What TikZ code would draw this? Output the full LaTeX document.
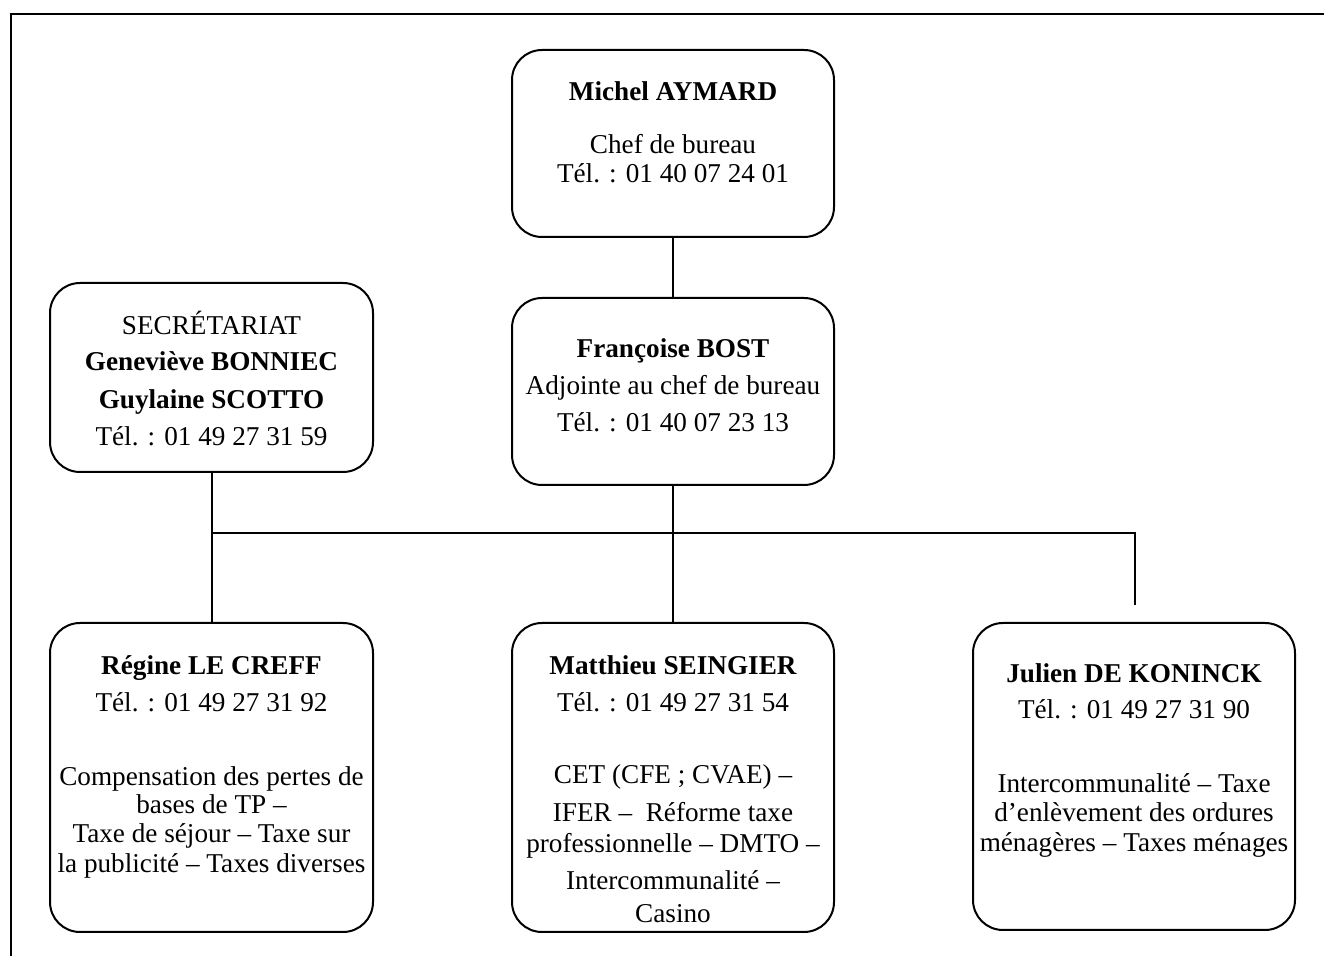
\documentclass[tikz,border=0pt]{standalone}
\usepackage{fontspec}
\setmainfont{Liberation Serif}
\begin{document}
\begin{tikzpicture}[x=0.5pt,y=-0.5pt,
  box/.style={draw, line width=1pt, rounded corners=15pt, inner sep=0pt},
  txt/.style={anchor=base, inner sep=0pt, font=\fontsize{13.6}{16}\selectfont},
  bt/.style={anchor=base, inner sep=0pt, font=\fontsize{13.6}{16}\selectfont\bfseries},
  link/.style={line width=1pt},
  frame/.style={line width=1.2pt}]
\useasboundingbox (0,0) rectangle (1324,956);
\draw[frame] (11,956) -- (11,14) -- (1324,14);

% boxes
\node[box, minimum width=161pt, minimum height=93.5pt] (chef) at (673,143.5) {};
\node[box, minimum width=161.5pt, minimum height=94.5pt] (secr) at (211.5,377.5) {};
\node[box, minimum width=161pt, minimum height=93.5pt] (adj) at (673,391.5) {};
\node[box, minimum width=161.5pt, minimum height=154.5pt] (lecreff) at (211.5,777.5) {};
\node[box, minimum width=161pt, minimum height=154.5pt] (seingier) at (673,777.5) {};
\node[box, minimum width=161pt, minimum height=153.5pt] (koninck) at (1134,776.5) {};

% connectors
\coordinate (busR) at (1135,533);
\coordinate (kEnd) at (1135,605);
\draw[link] (chef.south) -- (adj.north);
\draw[link] (secr.south) -- (lecreff.north);
\draw[link] (adj.south) -- (seingier.north);
\draw[link] (secr.south |- busR) -- (busR) -- (kEnd);

% Michel AYMARD
\node[bt] (c1) at (673,101) {Michel AYMARD};
\node[txt] (c2) at (673,154) {Chef de bureau};
\node[txt] (c3) at (673,183) {Tél. : 01 40 07 24 01};

% Secretariat
\node[txt] (s1) at (211.5,335) {SECRÉTARIAT};
\node[bt] (s2) at (211.5,371) {Geneviève BONNIEC};
\node[bt] (s3) at (211.5,409) {Guylaine SCOTTO};
\node[txt] (s4) at (211.5,446) {Tél. : 01 49 27 31 59};

% Francoise BOST
\node[bt] (a1) at (673,358) {Françoise BOST};
\node[txt] (a2) at (673,395) {Adjointe au chef de bureau};
\node[txt] (a3) at (673,432) {Tél. : 01 40 07 23 13};

% Regine LE CREFF
\node[bt] (r1) at (211.5,675) {Régine LE CREFF};
\node[txt] (r2) at (211.5,712) {Tél. : 01 49 27 31 92};
\node[txt] (r3) at (211.5,786) {Compensation des pertes de};
\node[txt] (r4) at (211.5,814) {bases de TP –};
\node[txt] (r5) at (211.5,843) {Taxe de séjour – Taxe sur};
\node[txt] (r6) at (211.5,873) {la publicité – Taxes diverses};

% Matthieu SEINGIER
\node[bt] (m1) at (673,675) {Matthieu SEINGIER};
\node[txt] (m2) at (673,712) {Tél. : 01 49 27 31 54};
\node[txt] (m3) at (673,784) {CET (CFE ; CVAE) –};
\node[txt] (m4) at (673,822) {IFER –~ Réforme taxe};
\node[txt] (m5) at (673,853) {professionnelle – DMTO –};
\node[txt] (m6) at (673,890) {Intercommunalité –};
\node[txt] (m7) at (673,923) {Casino};

% Julien DE KONINCK
\node[bt] (k1) at (1134,683) {Julien DE KONINCK};
\node[txt] (k2) at (1134,719) {Tél. : 01 49 27 31 90};
\node[txt] (k3) at (1134,793) {Intercommunalité – Taxe};
\node[txt] (k4) at (1134,822) {d’enlèvement des ordures};
\node[txt] (k5) at (1134,852) {ménagères – Taxes ménages};
\end{tikzpicture}
\end{document}
